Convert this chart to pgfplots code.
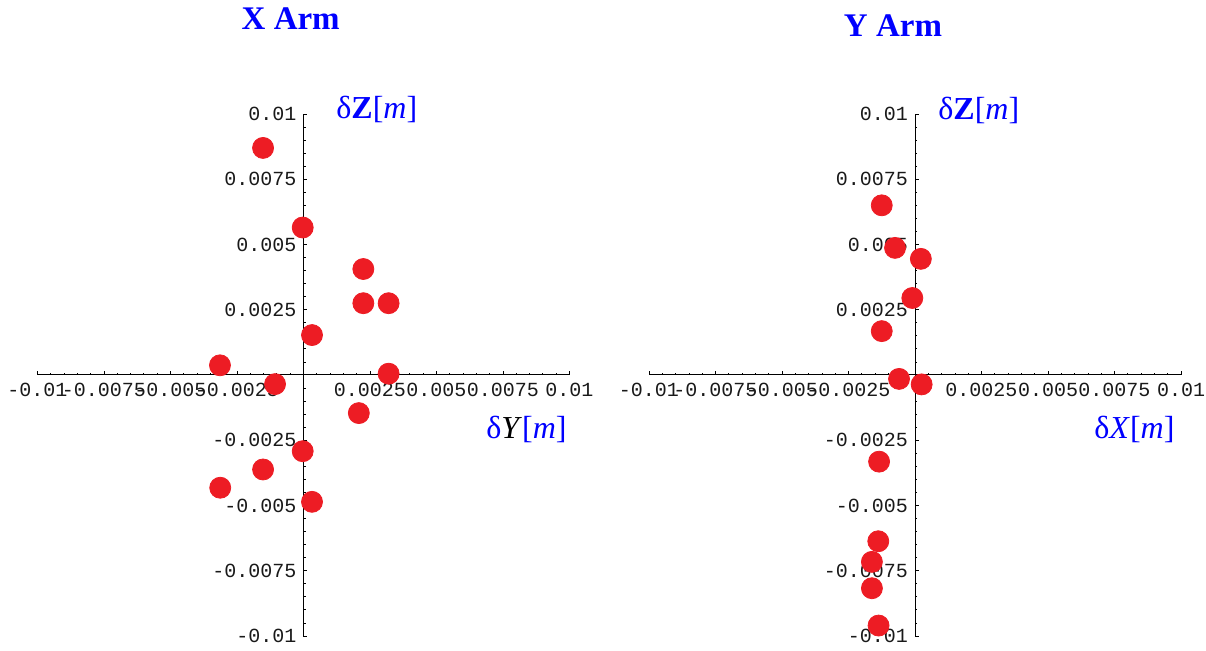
\documentclass[border=0pt]{standalone}
\usepackage{pgfplots}
\pgfplotsset{compat=1.18}
\usepackage{fontspec}
\setmainfont{Liberation Serif}
\setmonofont{Liberation Mono}
\definecolor{dotred}{RGB}{237,28,36}
\definecolor{lblue}{RGB}{0,0,255}

% Mathematica-like axes crossing at the origin
\pgfplotsset{armaxis/.style={
  scale only axis, width=266pt, height=261pt,
  axis lines=middle, axis line style={-, line width=0.5pt, black},
  xmin=-0.01, xmax=0.01, ymin=-0.01, ymax=0.01,
  xtick={-0.01,-0.0075,-0.005,-0.0025,0,0.0025,0.005,0.0075,0.01},
  ytick={-0.01,-0.0075,-0.005,-0.0025,0,0.0025,0.005,0.0075,0.01},
  xticklabels={-0.01,-0.0075,-0.005,-0.0025,,0.0025,0.005,0.0075,0.01},
  yticklabels={-0.01,-0.0075,-0.005,-0.0025,,0.0025,0.005,0.0075,0.01},
  scaled ticks=false,
  minor tick num=4,
  tick align=inside,
  major tick length=2pt, minor tick length=1.1pt,
  tick style={black, line width=0.4pt},
  ticklabel style={font=\fontsize{10}{11}\ttfamily, text=black!90},
  xticklabel style={anchor=base, yshift=-10.8pt},
  yticklabel style={anchor=east},
  clip=false,
}}

\begin{document}
\begin{tikzpicture}
\begin{axis}[armaxis, at={(18.75pt,7.5pt)}, anchor=south west]
\addplot[only marks, color=dotred, mark=*, mark size=5.25pt, mark options={draw=dotred, fill=dotred}] coordinates {
 (-0.00152,0.0087) (-0.00003,0.00565) (0.00225,0.00406) (0.00225,0.00275)
 (0.0032,0.00275) (0.00032,0.00153) (-0.00314,0.00037) (0.0032,0.00005)
 (-0.00107,-0.00035) (0.00208,-0.00146) (-0.00003,-0.00292) (-0.00152,-0.00362)
 (-0.00313,-0.00432) (0.00032,-0.00486)
};
\end{axis}
\begin{axis}[armaxis, at={(324.5pt,7.5pt)}, anchor=south west]
\addplot[only marks, color=dotred, mark=*, mark size=5.25pt, mark options={draw=dotred, fill=dotred}] coordinates {
 (-0.00125,0.0065) (-0.00075,0.00487) (0.00022,0.00445) (-0.0001,0.00295)
 (-0.00125,0.00168) (-0.0006,-0.00015) (0.00025,-0.00036) (-0.00135,-0.00332)
 (-0.00138,-0.00637) (-0.00162,-0.00716) (-0.00162,-0.00817) (-0.00137,-0.0096)
};
\end{axis}
% titles and axis labels
\node[anchor=base, text=lblue, font=\bfseries\fontsize{16.5}{18}\selectfont] at (145.35pt,310.85pt) {X Arm};
\node[anchor=base, text=lblue, font=\bfseries\fontsize{16.5}{18}\selectfont] at (446.5pt,307pt) {Y Arm};
\node[anchor=base west, inner sep=0pt, text=lblue, font=\fontsize{16}{18}\selectfont] at (168pt,266pt) {δ\textbf{Z}[\textit{m}]};
\node[anchor=base west, inner sep=0pt, text=lblue, font=\fontsize{16}{18}\selectfont] at (469pt,265.5pt) {δ\textbf{Z}[\textit{m}]};
\node[anchor=base west, inner sep=0pt, text=lblue, font=\fontsize{16}{18}\selectfont] at (243pt,106pt) {δ\textcolor{black}{\textit{Y}}[\textit{m}]};
\node[anchor=base west, inner sep=0pt, text=lblue, font=\fontsize{16}{18}\selectfont] at (547pt,106pt) {δ\textit{X}[\textit{m}]};
\pgfresetboundingbox
\path[use as bounding box] (0,0) rectangle (603pt,325.5pt);
\end{tikzpicture}
\end{document}
